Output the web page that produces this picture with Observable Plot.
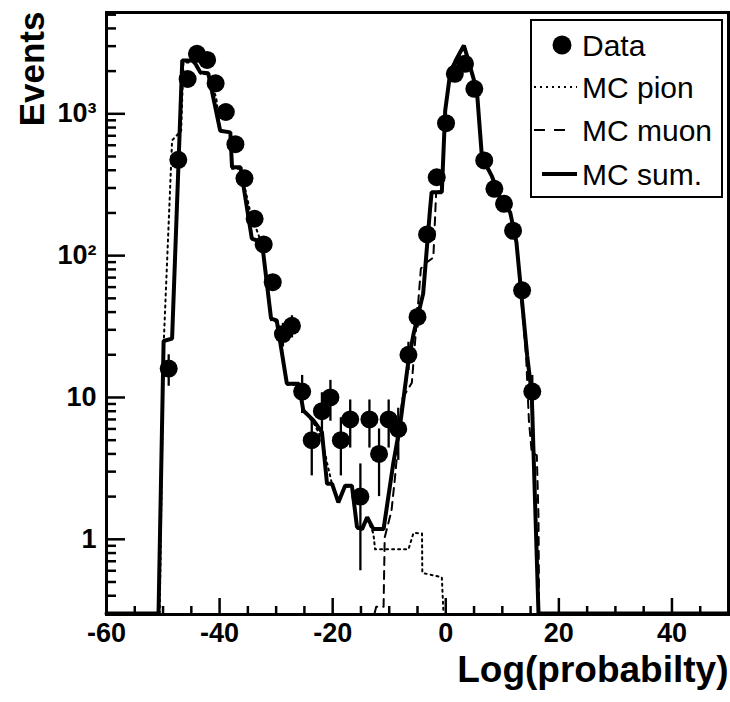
<!DOCTYPE html>
<html><head><meta charset="utf-8">
<script src="https://cdn.jsdelivr.net/npm/d3@7"></script>
<script src="https://cdn.jsdelivr.net/npm/@observablehq/plot@0.6"></script>
<style>
html,body{margin:0;padding:0;background:#fff;}
#chart{width:730px;height:702px;}
</style></head><body><div id="chart"></div>
<script>
// Data points (histogram of data)
const dataX = [-49.0, -47.3, -45.65, -44.0, -42.2, -40.7, -38.9, -37.2, -35.6, -33.8, -32.2, -30.6, -28.8, -27.2, -25.4, -23.7, -21.9, -20.4, -18.55, -16.9, -15.1, -13.5, -11.8, -10.1, -8.4, -6.6, -5.0, -3.3, -1.6, 0.05, 1.6, 3.4, 5.05, 6.8, 8.6, 10.3, 11.9, 13.5, 15.3];
const dataN = [16, 474, 1760, 2650, 2400, 1640, 1030, 611, 351, 182, 120, 65, 28, 32, 11, 5, 8, 10, 5, 7, 2, 7, 4, 7, 6, 20, 37, 141, 357, 859, 1915, 2252, 1501, 469, 296, 232, 150, 57, 11];
const dataErr = [4.0, 21.8, 42.0, 51.5, 49.0, 40.5, 32.1, 24.7, 18.7, 13.5, 11.0, 8.1, 5.3, 5.7, 3.3, 2.2, 2.8, 3.2, 2.2, 2.6, 1.4, 2.6, 2.0, 2.6, 2.4, 4.5, 6.1, 11.9, 18.9, 29.3, 43.8, 47.5, 38.7, 21.7, 17.2, 15.2, 12.2, 7.5, 3.3];

// MC sum
const sumX = [-60, -50.8, -49.9, -48.4, -46.6, -44.6, -43.4, -42.0, -39.9, -38.1, -37.8, -36.3, -34.3, -32.5, -30.9, -29.9, -28.1, -26.0, -25.2, -23.4, -21.9, -21.0, -20.1, -19.0, -17.8, -16.6, -15.7, -14.8, -13.9, -12.8, -11.0, -9.3, -8.1, -6.6, -5.7, -4.0, -2.8, -2.5, -0.7, -0.1, 0.8, 1.9, 3.2, 4.0, 5.5, 6.4, 8.1, 9.6, 11.4, 12.5, 14.4, 15.2, 16.4, 50];
const sumY = [0.3, 0.3, 25, 26, 2380, 2380, 1960, 1930, 760, 740, 420, 420, 132, 124, 36, 35, 12.5, 12.5, 8.1, 6.9, 5.7, 2.46, 2.46, 1.82, 2.39, 2.39, 1.22, 1.18, 1.43, 1.18, 1.18, 3.4, 6.3, 18.2, 28, 54, 208, 280, 280, 1055, 1960, 2440, 3030, 2380, 1460, 494, 367, 257, 201, 124, 19.7, 10.6, 0.3, 0.3];

// MC pion
const pionX = [-50.6, -49.9, -48.4, -46.8, -46.4, -44.6, -43.4, -42.0, -40.6, -39.9, -38.1, -37.8, -36.3, -34.5, -32.5, -30.9, -29.7, -28.0, -26.1, -25.2, -23.4, -21.8, -21.0, -20.1, -19.0, -17.8, -16.6, -15.7, -14.8, -13.9, -12.8, -12.5, -6.6, -5.7, -4.2, -4.15, -0.7, -0.4];
const pionY = [0.3, 23, 650, 760, 2300, 2300, 1920, 1890, 1300, 760, 740, 410, 410, 198, 120, 35, 34, 12.3, 12.3, 8.1, 6.65, 5.0, 3.47, 2.43, 1.82, 2.35, 2.35, 1.19, 1.17, 1.40, 1.10, 0.85, 0.85, 1.11, 1.10, 0.58, 0.54, 0.3];

// MC muon
const muonX = [-12.6, -12.3, -11.0, -10.8, -9.6, -9.0, -7.7, -6.0, -4.4, -3.5, -2.2, -1.7, -0.8, -0.1, 0.8, 2.0, 3.2, 4.0, 5.5, 6.4, 8.1, 9.6, 11.4, 12.5, 14.2, 14.7, 15.2, 16.1, 16.4, 16.5];
const muonY = [0.3, 0.335, 0.335, 1.03, 1.59, 2.68, 9.8, 12.7, 81, 89, 97, 279, 288, 1021, 1920, 2380, 2890, 2380, 1460, 492, 367, 257, 201, 124, 19.8, 6.9, 4.1, 3.9, 1.42, 0.3];

// Axes
const xMajorTicks = [-60, -40, -20, 0, 20, 40];
const xMinorTicks = [-55, -50, -45, -35, -30, -25, -15, -10, -5, 5, 10, 15, 25, 30, 35, 45];
const yMajorTicks = [1, 10, 100, 1000];
const yTickLabels = ["1", "10", "10\u00B2", "10\u00B3"];
const yMinorTicks = [0.3, 0.4, 0.5, 0.6, 0.7, 0.8, 0.9, 2, 3, 4, 5, 6, 7, 8, 9, 20, 30, 40, 50, 60, 70, 80, 90, 200, 300, 400, 500, 600, 700, 800, 900, 2000, 3000, 4000, 5000];
const xTitle = "Log(probabilty)";
const yTitle = "Events";
const legendLabels = ["Data", "MC pion", "MC muon", "MC sum."];

const data = dataX.map((x, i) => ({x, n: dataN[i], lo: dataN[i] - dataErr[i], hi: dataN[i] + dataErr[i]}));
const toPts = (xs, ys) => xs.map((x, i) => ({x, y: ys[i]}));
const sumPts = toPts(sumX, sumY);
const pionPts = toPts(pionX, pionY);
const muonPts = toPts(muonX, muonY);

const W = 730, H = 702, mL = 106, mR = 2, mT = 12, mB = 88;
const fw = W - mL - mR, fh = H - mT - mB;
const FONT = '"Liberation Sans", Arial, Helvetica, sans-serif';

function legend() {
  const g = d3.create("svg:g").attr("font-family", FONT);
  g.append("rect").attr("x", 531).attr("y", 20).attr("width", 191).attr("height", 177)
    .attr("fill", "white").attr("stroke", "black").attr("stroke-width", 2);
  const rows = [45, 87, 130, 174];
  legendLabels.forEach((lab, i) => {
    const y = rows[i];
    if (i === 0) g.append("circle").attr("cx", 562).attr("cy", y).attr("r", 9.5).attr("fill", "black");
    if (i === 1) g.append("line").attr("x1", 534).attr("x2", 577).attr("y1", y).attr("y2", y)
      .attr("stroke", "black").attr("stroke-width", 2).attr("stroke-dasharray", "2,4");
    if (i === 2) g.append("line").attr("x1", 534).attr("x2", 566).attr("y1", y).attr("y2", y)
      .attr("stroke", "black").attr("stroke-width", 2).attr("stroke-dasharray", "11,9");
    if (i === 3) g.append("line").attr("x1", 542).attr("x2", 577).attr("y1", y).attr("y2", y)
      .attr("stroke", "black").attr("stroke-width", 4);
    g.append("text").attr("x", 582).attr("y", y).attr("dy", "0.36em")
      .attr("text-anchor", "start")
      .attr("font-size", 30).attr("fill", "black").text(lab);
  });
  return g.node();
}

const chart = Plot.plot({
  width: W, height: H,
  marginLeft: mL, marginRight: mR, marginTop: mT, marginBottom: mB,
  style: {fontFamily: FONT, background: "white", color: "black"},
  x: {domain: [-60, 50], label: null},
  y: {type: "log", domain: [0.295, 5180], label: null},
  marks: [
    Plot.ruleX(data, {x: "x", y1: "lo", y2: "hi", stroke: "black", strokeWidth: 2.3}),
    Plot.line(pionPts, {x: "x", y: "y", stroke: "black", strokeWidth: 2, strokeDasharray: "2,4"}),
    Plot.line(muonPts, {x: "x", y: "y", stroke: "black", strokeWidth: 2, strokeDasharray: "8,6"}),
    Plot.line(sumPts, {x: "x", y: "y", stroke: "black", strokeWidth: 4, strokeLinejoin: "miter"}),
    Plot.dot(data, {x: "x", y: "n", r: 9, fill: "black", stroke: null}),
    Plot.frame({stroke: "black", strokeWidth: 3}),
    Plot.tickX(xMajorTicks, {x: d => d, insetTop: fh - 16, stroke: "black", strokeWidth: 2.5}),
    Plot.tickX(xMinorTicks, {x: d => d, insetTop: fh - 8, stroke: "black", strokeWidth: 2.5}),
    Plot.tickY(yMajorTicks, {y: d => d, insetRight: fw - 19, stroke: "black", strokeWidth: 2.5}),
    Plot.tickY(yMinorTicks, {y: d => d, insetRight: fw - 10, stroke: "black", strokeWidth: 2.5}),
    Plot.axisX(xMajorTicks, {label: null, tickSize: 0, tickPadding: 8, fontSize: 27, fontWeight: "bold", tickFormat: d => String(d), fill: "black"}),
    Plot.axisY(yMajorTicks, {label: null, tickSize: 0, tickPadding: 10, fontSize: 27, fontWeight: "bold", tickFormat: d => yTickLabels[yMajorTicks.indexOf(d)], fill: "black"}),
    Plot.text([yTitle], {text: d => d, frameAnchor: "top-left", rotate: -90, textAnchor: "end", dx: -87, dy: -1, fontSize: 35, fontWeight: "bold", fill: "black"}),
    Plot.text([xTitle], {text: d => d, frameAnchor: "bottom-right", textAnchor: "end", dx: 0, dy: 67, fontSize: 37, fontWeight: "bold", fill: "black"}),
    legend
  ]
});
document.getElementById("chart").appendChild(chart);
</script>
</body></html>
